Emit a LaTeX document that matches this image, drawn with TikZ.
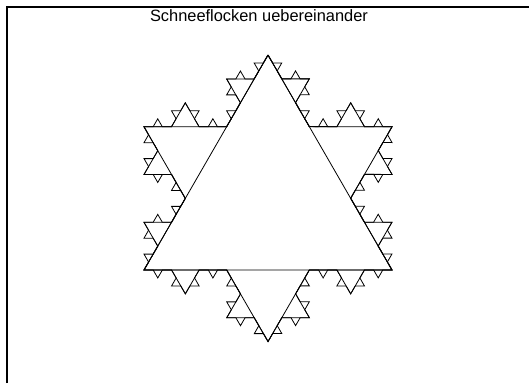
\documentclass[tikz,border=0pt]{standalone}
\usepackage{fontspec}
\setmainfont{Liberation Sans}
\usetikzlibrary{decorations.fractals}
\tikzset{
  flake/.style={draw=black,line width=0.8pt,line join=miter,decoration=Koch snowflake},
  rahmen/.style={draw=black,line width=1.2pt}
}

\begin{document}
\begin{tikzpicture}[x=1pt,y=-1pt]
\useasboundingbox (0,0) rectangle (529,383);
\coordinate (ecke) at (7,7);
\coordinate (unten) at (7,383);
\coordinate (rechts) at (529,7);
\draw[rahmen] (unten) -- (ecke) -- (rechts);
\node[font=\fontsize{16.4}{18}\selectfont,anchor=center] (titel) at (259,16) {Schneeflocken uebereinander};

\coordinate (oben) at (268,55);
\coordinate (re) at (392,270);
\coordinate (li) at (144,270);
% Stufe 0 bis 3
\draw[flake] (oben) -- (re) -- (li) -- (oben);
\draw[flake] decorate{(oben) -- (re) -- (li) -- (oben)};
\draw[flake] decorate{decorate{(oben) -- (re) -- (li) -- (oben)}};
\draw[flake] decorate{decorate{decorate{(oben) -- (re) -- (li) -- (oben)}}};
\end{tikzpicture}
\end{document}
